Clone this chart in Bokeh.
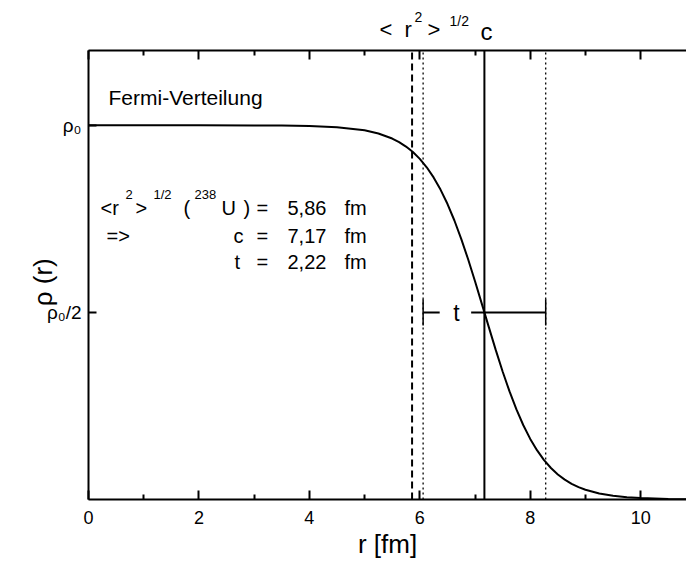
from bokeh.plotting import figure
from bokeh.layouts import column
from bokeh.models import Range1d, LinearAxis, FixedTicker, Label, CustomLabelingPolicy
from bokeh.embed import file_html
from bokeh.resources import INLINE

# ---- data ----
r_vals = [0, 1, 2, 3, 3.5, 4, 4.5, 5, 5.25, 5.5, 5.625, 5.75, 5.875, 6.0, 6.125,
          6.25, 6.375, 6.5, 6.625, 6.75, 6.875, 7.0, 7.125, 7.25, 7.375, 7.5,
          7.625, 7.75, 7.875, 8.0, 8.125, 8.25, 8.375, 8.5, 8.625, 8.75, 8.875,
          9.0, 9.25, 9.5, 9.75, 10.0, 10.5, 10.83]
rho_vals = [1.0, 1.0, 1.0, 0.9997, 0.9993, 0.9981, 0.9950, 0.9866, 0.9782, 0.9647,
            0.9552, 0.9433, 0.9285, 0.9103, 0.8879, 0.8608, 0.8283, 0.7903, 0.7463,
            0.6967, 0.6420, 0.5834, 0.5222, 0.4606, 0.3998, 0.3422, 0.2889, 0.2407,
            0.1984, 0.1619, 0.1311, 0.1054, 0.0842, 0.0670, 0.0531, 0.0419, 0.0330,
            0.0260, 0.0160, 0.0098, 0.0060, 0.0037, 0.0014, 0.0007]
rms_radius = 5.86
c_half = 7.17
t_skin = 2.22
x_ticks = [0, 2, 4, 6, 8, 10]
x_minor = [1, 3, 5, 7, 9]
y_ticks = [0.5, 1.0]
y_tick_labels = {0.5: "\u03c1\u2080/2", 1.0: "\u03c1\u2080"}

FONT = "Liberation Sans"
W, H = 686, 567
FRAME_TOP = 50
TOP_PAD = 6          # small border inside the main figure above its frame
TOP_H = FRAME_TOP - TOP_PAD
L, B = 88, 68
MH = H - TOP_H

# ---------- strip above the frame ----------
top = figure(width=W, height=TOP_H, output_backend="svg", toolbar_location=None,
             x_range=Range1d(0, 1), y_range=Range1d(0, 1),
             x_axis_type=None, y_axis_type=None, min_border=0)
top.outline_line_color = None
top.grid.visible = False

def lab(fig, text, px, py, size, align="left", baseline="alphabetic", angle=0, yoff=0):
    shift = 0.35 * size if baseline == "alphabetic" else 0
    fig.add_layout(Label(x=px, y=py - yoff - shift, x_units="canvas", y_units="canvas",
                         text=text, text_font=FONT, text_font_size=f"{size}px",
                         text_color="black", text_align=align, text_baseline=baseline,
                         angle=angle))

lab(top, "<", 379, 37, 22)
lab(top, "r", 404, 37, 22)
lab(top, "2", 414, 21, 14)
lab(top, ">", 427, 37, 22)
lab(top, "1/2", 449, 25, 14)
lab(top, "c", 480, 39, 24)

# ---------- main plot ----------
p = figure(width=W, height=MH, output_backend="svg", toolbar_location=None,
           x_range=Range1d(0, 10.83), y_range=Range1d(0, 1.2),
           x_axis_type=None, y_axis_type=None,
           min_border_left=L, min_border_top=TOP_PAD, min_border_bottom=B,
           min_border_right=0)
p.outline_line_color = None

def style_axis(ax, ticker, labels=True):
    ax.ticker = ticker
    ax.axis_line_width = 2
    ax.axis_line_color = "black"
    ax.major_tick_line_width = 2
    ax.minor_tick_line_width = 2
    ax.major_tick_line_color = "black"
    ax.minor_tick_line_color = "black"
    ax.major_tick_in = 9
    ax.major_tick_out = 0
    ax.minor_tick_in = 5
    ax.minor_tick_out = 0
    ax.major_label_text_font = FONT
    ax.major_label_text_color = "black"
    if labels:
        ax.major_label_text_font_size = "18px"
        ax.major_label_standoff = 11
    else:
        ax.major_label_policy = CustomLabelingPolicy(code="return new Set()")
        ax.major_label_text_font_size = "0px"
        ax.major_label_standoff = 0

xb = LinearAxis()
style_axis(xb, FixedTicker(ticks=x_ticks, minor_ticks=x_minor))
xb.axis_label = "r [fm]"
xb.axis_label_text_font = FONT
xb.axis_label_text_font_size = "26px"
xb.axis_label_text_font_style = "normal"
xb.axis_label_text_color = "black"
xb.axis_label_standoff = 2
p.add_layout(xb, "below")

xt = LinearAxis()
style_axis(xt, FixedTicker(ticks=x_ticks, minor_ticks=x_minor), labels=False)
p.add_layout(xt, "above")

yl = LinearAxis()
style_axis(yl, FixedTicker(ticks=y_ticks, minor_ticks=[]))
yl.major_tick_in = 8
yl.major_label_overrides = y_tick_labels
yl.major_label_text_font_size = "19px"
yl.major_label_standoff = 7
yl.axis_label = "\u03c1 (r)\u00a0\u00a0"
yl.axis_label_text_font = FONT
yl.axis_label_text_font_size = "26px"
yl.axis_label_text_font_style = "normal"
yl.axis_label_text_color = "black"
yl.axis_label_standoff = -14
p.add_layout(yl, "left")

# curve
p.line(r_vals, rho_vals, line_width=2, line_color="black")

# vertical marker lines
y_lo, y_hi = 0, 1.2
p.segment(x0=[rms_radius], y0=[y_lo], x1=[rms_radius], y1=[y_hi],
          line_color="black", line_width=2, line_dash="7 4")
p.segment(x0=[c_half], y0=[y_lo], x1=[c_half], y1=[y_hi],
          line_color="black", line_width=2)
inner = c_half - t_skin / 2
outer = c_half + t_skin / 2
p.segment(x0=[inner, outer], y0=[y_lo, y_lo], x1=[inner, outer], y1=[y_hi, y_hi],
          line_color="black", line_width=1.3, line_dash="2 3")

# t bar
gap_l, gap_r = 6.36, 6.93
p.segment(x0=[inner, gap_r], y0=[0.5, 0.5], x1=[gap_l, outer], y1=[0.5, 0.5],
          line_color="black", line_width=2)
p.segment(x0=[inner, outer], y0=[0.465, 0.465], x1=[inner, outer], y1=[0.535, 0.535],
          line_color="black", line_width=1.5)

# texts inside the frame (page coordinates, shifted by the strip height)
def mlab(text, px, py, size, **kw):
    lab(p, text, px, py, size, yoff=TOP_H, **kw)

mlab("Fermi-Verteilung", 108, 104, 21)

mlab("<r", 100, 214, 20)
mlab("2", 125, 199, 13)
mlab(">", 135, 214, 20)
mlab("1/2", 153, 199, 13)
mlab("(", 183, 214, 20)
mlab("238", 194, 199, 13)
mlab("U", 221, 214, 20)
mlab(")", 243, 214, 20)
mlab("=", 256, 214, 20)
mlab("5,86", 287, 214, 20)
mlab("fm", 344, 214, 20)

mlab("=>", 106, 242, 20)
mlab("c", 233, 242, 20)
mlab("=", 256, 242, 20)
mlab("7,17", 287, 242, 20)
mlab("fm", 344, 242, 20)

mlab("t", 234, 268, 20)
mlab("=", 256, 268, 20)
mlab("2,22", 287, 268, 20)
mlab("fm", 344, 268, 20)

mlab("t", 456, 312, 23, align="center", baseline="middle")

layout = column(top, p, spacing=0)
open("out.html", "w").write(file_html(layout, INLINE))
